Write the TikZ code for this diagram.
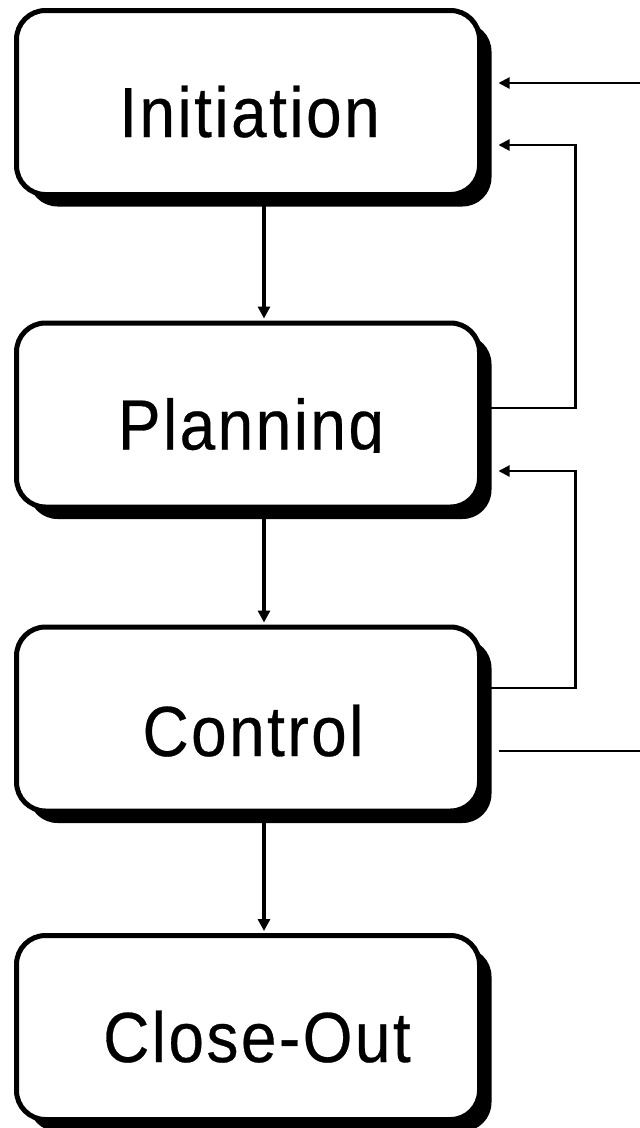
\documentclass[tikz,border=0pt]{standalone}
\usepackage{fontspec}
\setmainfont{Liberation Sans}
\newfontfamily\labelfont[FakeStretch=0.9, LetterSpace=3.5, FakeBold=0.4]{Liberation Sans}
\usetikzlibrary{arrows.meta,shadows}

\tikzset{
  phase/.style={draw=black, fill=white, line width=5pt, rounded corners=29pt,
    minimum width=463pt, minimum height=184pt, inner sep=0pt,
    drop shadow={shadow xshift=12pt, shadow yshift=-12pt, fill=black, opacity=1}},
  phasetext/.style={anchor=base, inner sep=0pt, font=\labelfont\fontsize{71}{80}\selectfont},
  flow/.style={line width=3.5pt, -{Triangle[length=12pt,width=12pt]}, shorten >=2pt},
  feedback/.style={line width=2.2pt, -{Triangle[length=11pt,width=11pt]}, shorten >=16.5pt},
  plainline/.style={line width=2.2pt}
}

\begin{document}
\begin{tikzpicture}[x=1pt, y=-1pt]
  \useasboundingbox (0,0) rectangle (640,1128);
  \fill[white] (0,0) rectangle (640,1128);

  % phase boxes
  \node[phase] (b1) at (248,102.5) {};
  \node[phase] (b2) at (248,415) {};
  \node[phase] (b3) at (248,719) {};
  \node[phase] (b4) at (248,1027.5) {};

  % labels
  \node[phasetext] (t1) at (249.5,137) {Initiation};
  \begin{scope}
    \clip (0,300) rectangle (640,452.5);
    \node[phasetext] (t2) at (251,449.5) {Planning};
  \end{scope}
  \node[phasetext] (t3) at (253,756) {Control};
  \node[phasetext] (t4) at (257,1062) {Close-Out};

  % main sequence
  \draw[flow] ([xshift=16pt]b1.south) -- ([xshift=16pt]b2.north);
  \draw[flow] ([xshift=16pt]b2.south) -- ([xshift=16pt]b3.north);
  \draw[flow] ([xshift=16pt]b3.south) -- ([xshift=16pt]b4.north);

  % incoming and outgoing lines at the right
  \coordinate (inA) at (640,83);
  \coordinate (outD) at (640,751);
  \draw[feedback] (inA) -- (b1.east |- inA);
  \draw[plainline] ([xshift=16.5pt,yshift=-32pt]b3.east) -- (outD);

  % feedback loops
  \draw[feedback] ([yshift=7pt]b2.east) -- ++(93.5,0) |- ([yshift=-42.5pt]b1.east);
  \draw[feedback] ([yshift=31pt]b3.east) -- ++(93.5,0) |- ([yshift=-56pt]b2.east);
\end{tikzpicture}
\end{document}
